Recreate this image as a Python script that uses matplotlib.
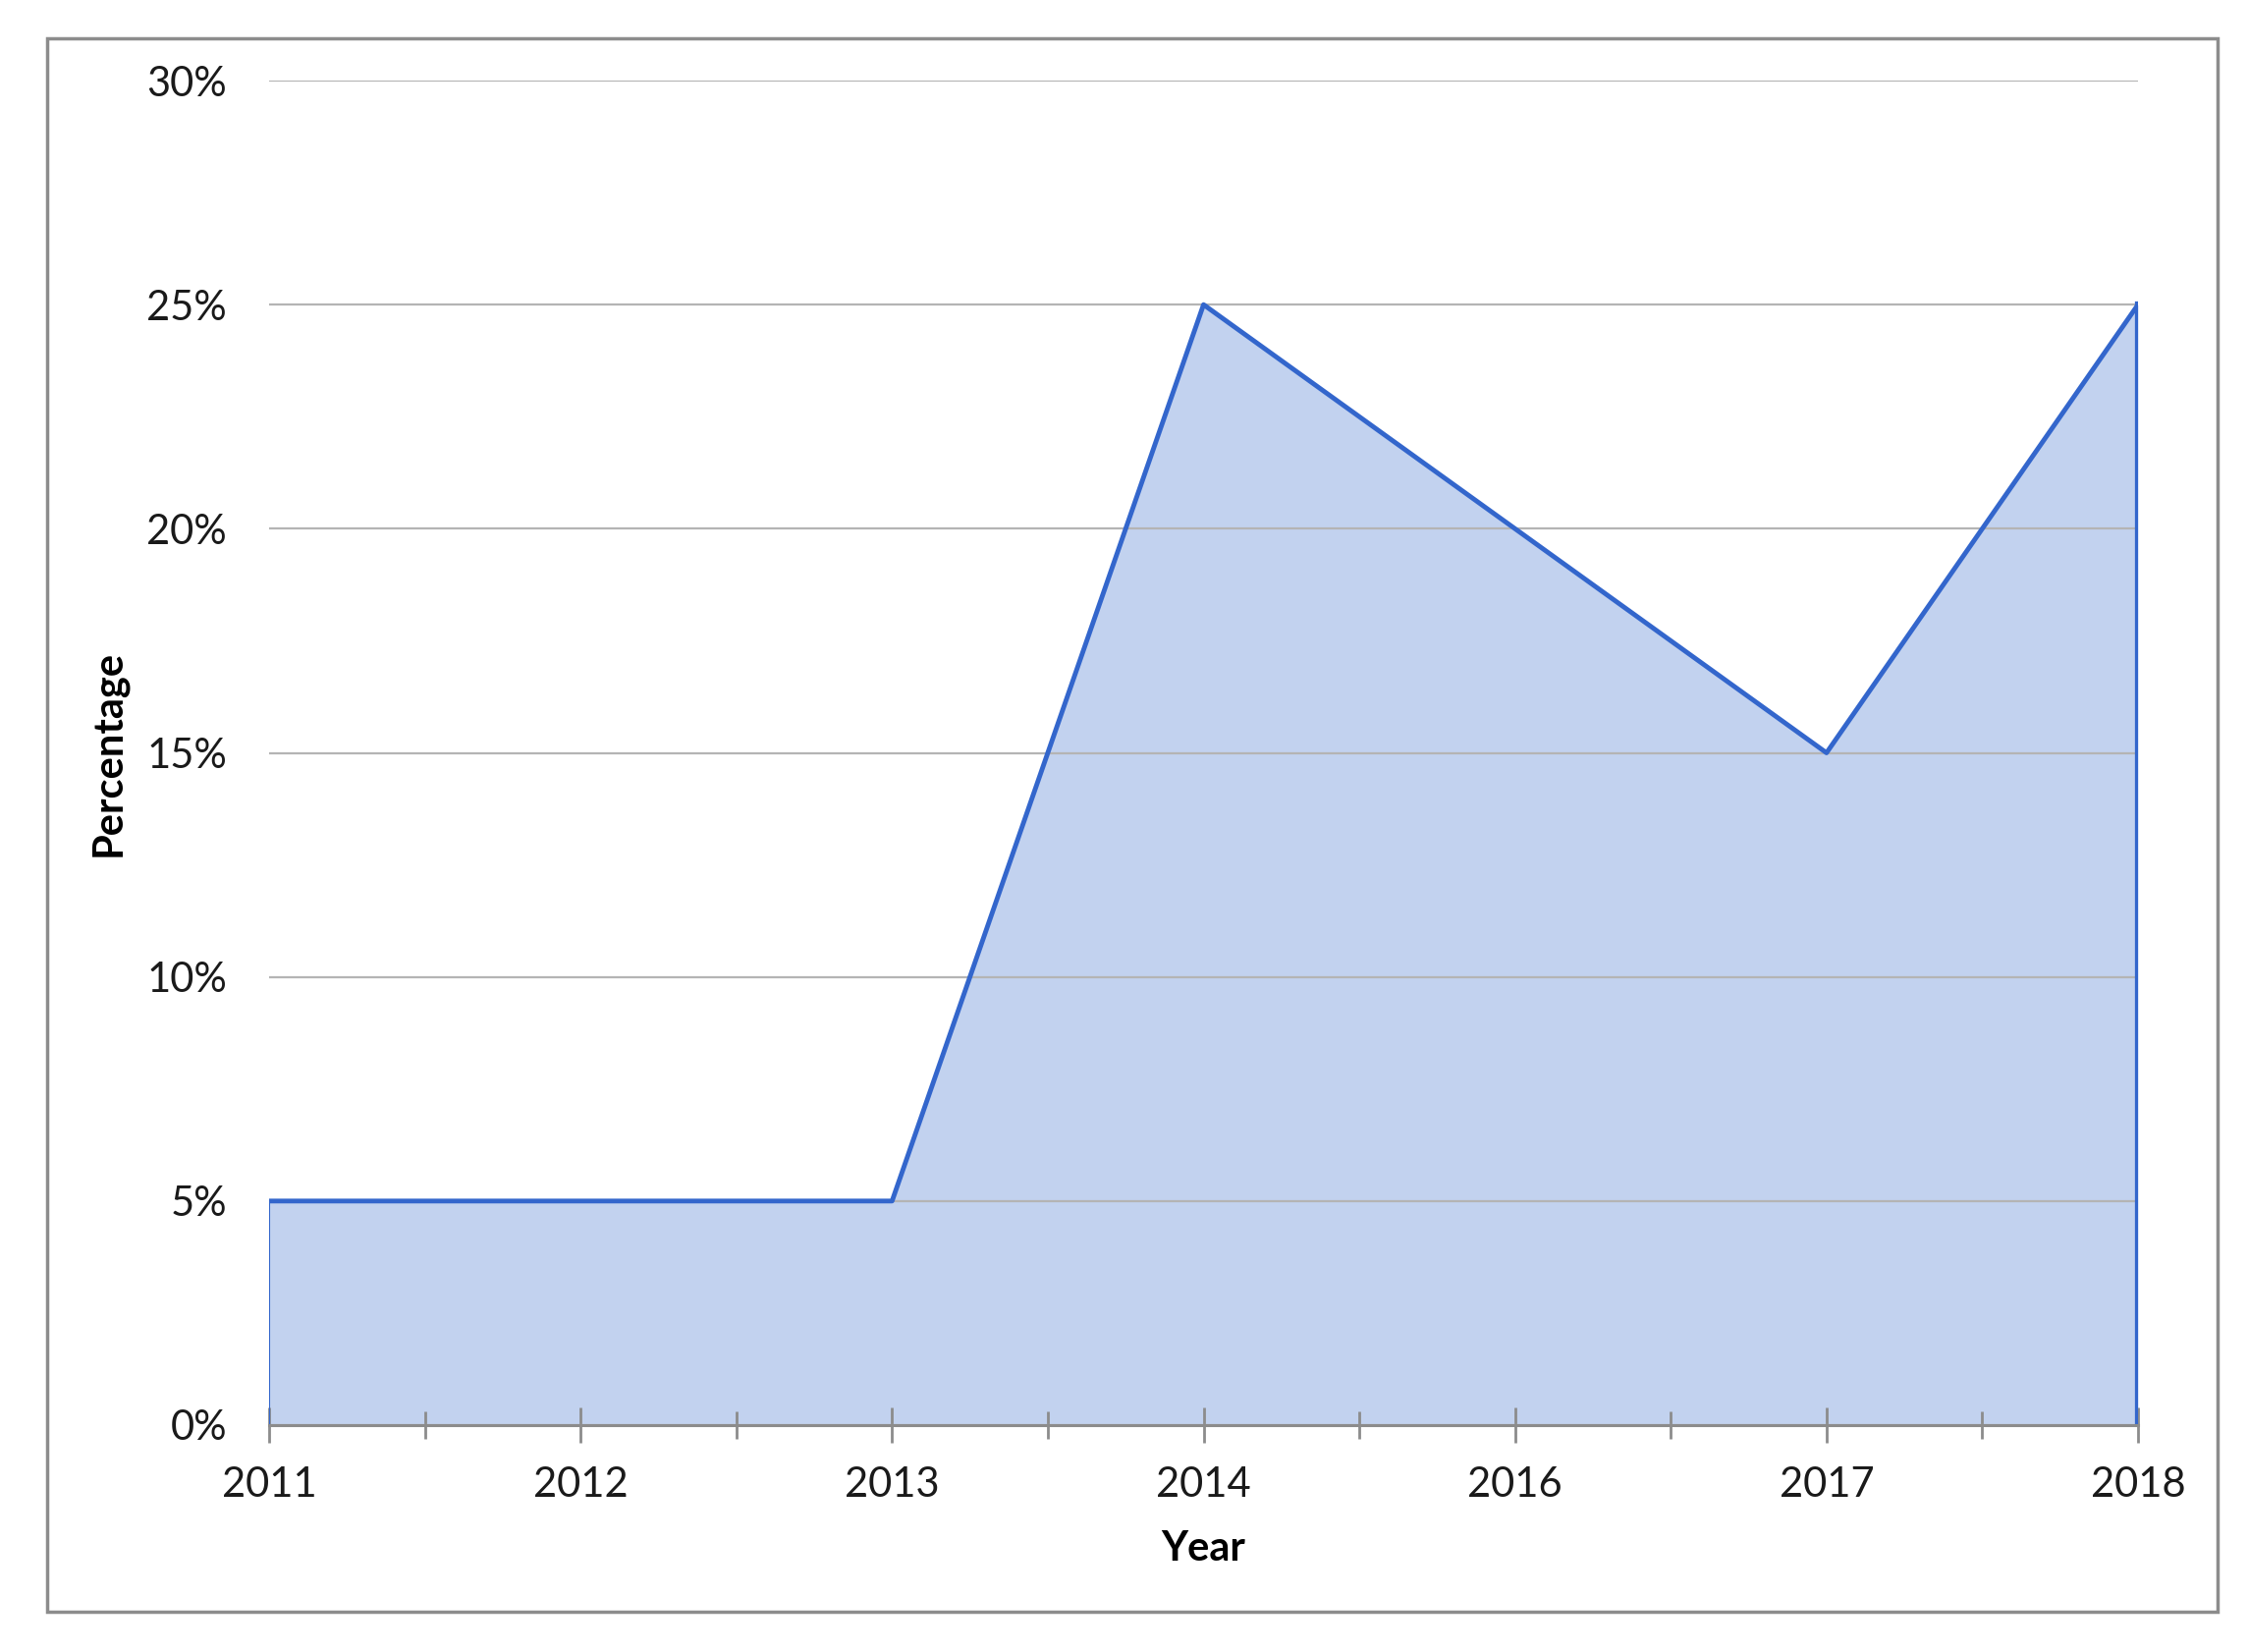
import matplotlib

matplotlib.use("Agg")
import matplotlib.pyplot as plt
from matplotlib.patches import Rectangle
from matplotlib.ticker import FixedLocator, FuncFormatter

years = ["2011", "2012", "2013", "2014", "2016", "2017", "2018"]
percent = [5, 5, 5, 25, 20, 15, 25]
y_ticks = [0, 5, 10, 15, 20, 25, 30]

LINE = "#3366CC"
FILL = "#C2D2EF"
GRID = "#B4B4B4"
AXIS = "#8C8C8C"

plt.rcParams["font.family"] = ["Lato", "DejaVu Sans"]

W, H = 2289, 1682
fig = plt.figure(figsize=(W / 100, H / 100), dpi=100)
ax = fig.add_axes([274 / W, 1 - 1451 / H, (2177 - 274) / W, (1451 - 82) / H])

x = list(range(len(years)))
ax.fill_between(x, percent, 0, color=FILL, lw=0, zorder=1)
ax.plot(x, percent, color=LINE, lw=3.5, zorder=3)
ax.plot([x[0], x[0]], [0, percent[0]], color=LINE, lw=1.5, zorder=3)
ax.plot([x[-1], x[-1]], [0, percent[-1]], color=LINE, lw=4.5, zorder=3)

ax.set_xlim(0, len(years) - 1)
ax.set_ylim(0, 30)
ax.set_yticks(y_ticks)
ax.yaxis.set_major_formatter(FuncFormatter(lambda v, _: f"{v:.0f}%"))
ax.set_xticks(x)
ax.set_xticklabels(years)
ax.xaxis.set_minor_locator(FixedLocator([i + 0.5 for i in x[:-1]]))

ax.grid(axis="y", color=GRID, lw=1.6, zorder=2)
ax.set_axisbelow(False)
for side in ("top", "right", "left"):
    ax.spines[side].set_visible(False)
ax.spines["bottom"].set_color(AXIS)
ax.spines["bottom"].set_linewidth(2.2)
ax.spines["bottom"].set_zorder(4)

ax.tick_params(axis="y", length=0, pad=31, labelsize=30, labelcolor="#1a1a1a")
ax.tick_params(axis="x", which="major", direction="inout", length=26, width=2,
               color=AXIS, pad=17, labelsize=30, labelcolor="#1a1a1a")
ax.tick_params(axis="x", which="minor", direction="inout", length=20, width=2,
               color=AXIS)

ax.set_xlabel("Year", fontsize=30, fontweight="bold", labelpad=20)
ax.set_ylabel("Percentage", fontsize=30, fontweight="bold", labelpad=14)

fig.patches.append(Rectangle((48 / W, 1 - 1641 / H), (2258 - 48) / W, (1641 - 39) / H,
                             transform=fig.transFigure, fill=False,
                             edgecolor="#8C8C8C", lw=2.5))

fig.savefig("out.png", dpi=100)
